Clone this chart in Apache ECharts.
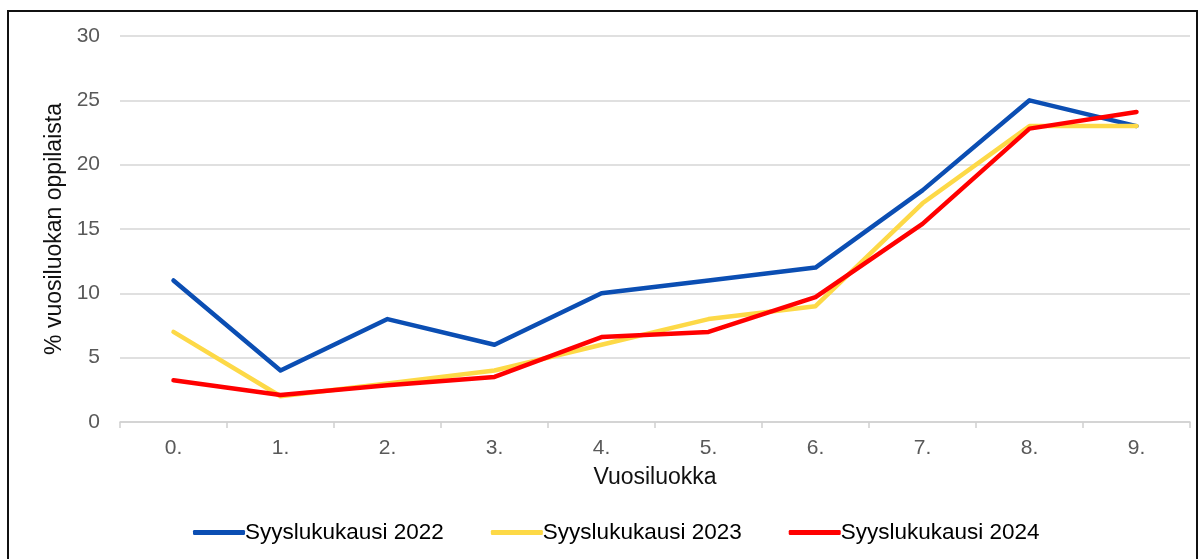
<!DOCTYPE html>
<html>
<head>
<meta charset="utf-8">
<script src="https://cdn.jsdelivr.net/npm/echarts@6/dist/echarts.min.js"></script>
<style>
html,body{margin:0;padding:0;background:#fff;}
#chart{width:1202px;height:559px;position:absolute;left:0;top:0;}
#frame{position:absolute;left:7px;top:10px;width:1191px;height:560px;border:2px solid #111;box-sizing:border-box;pointer-events:none;}
</style>
</head>
<body>
<div id="chart"></div>
<div id="frame"></div>
<script>
const categories = ['0.', '1.', '2.', '3.', '4.', '5.', '6.', '7.', '8.', '9.'];
const s2022 = [11, 4, 8, 6, 10, 11, 12, 18, 25, 23];
const s2023 = [7, 2, 3, 4, 6, 8, 9, 17, 23, 23];
const s2024 = [3.25, 2.1, 2.85, 3.5, 6.6, 7.0, 9.7, 15.4, 22.8, 24.1];
const seriesNames = ['Syyslukukausi 2022', 'Syyslukukausi 2023', 'Syyslukukausi 2024'];
const colors = ['#0B4EB3', '#FDD947', '#FF0000'];

const chart = echarts.init(document.getElementById('chart'), null, {renderer: 'canvas'});
const font = 'Liberation Sans, Arial, sans-serif';
const mk = (name, data, color) => ({
  name, type: 'line', data, symbol: 'none', smooth: false,
  lineStyle: {color, width: 4.5, cap: 'round', join: 'round'},
  itemStyle: {color}
});
chart.setOption({
  animation: false,
  backgroundColor: '#fff',
  grid: {left: 120, right: 12, top: 36, bottom: 137},
  legend: {
    left: 188, top: 516,
    itemWidth: 52, itemHeight: 5, itemGap: 47,
    icon: 'roundRect',
    textStyle: {fontFamily: font, fontSize: 22.5, color: '#000', padding: [0, 0, 0, -5]},
    data: seriesNames
  },
  xAxis: {
    type: 'category', data: categories, boundaryGap: true,
    name: 'Vuosiluokka', nameLocation: 'middle', nameGap: 44,
    nameTextStyle: {fontFamily: font, fontSize: 23, color: '#111'},
    axisLine: {lineStyle: {color: '#d0d0d0', width: 1.5}},
    axisTick: {show: true, alignWithLabel: false, length: 6, lineStyle: {color: '#d0d0d0', width: 1.5}},
    axisLabel: {fontFamily: font, fontSize: 21, color: '#595959', margin: 16}
  },
  yAxis: {
    type: 'value', min: 0, max: 30, interval: 5,
    name: '% vuosiluokan oppilaista', nameLocation: 'middle', nameGap: 53, nameRotate: 90,
    nameTextStyle: {fontFamily: font, fontSize: 23, color: '#111'},
    axisLine: {show: false}, axisTick: {show: false},
    splitLine: {lineStyle: {color: '#d6d6d6', width: 1.5}},
    axisLabel: {fontFamily: font, fontSize: 21, color: '#595959', margin: 20}
  },
  series: [mk(seriesNames[0], s2022, colors[0]), mk(seriesNames[1], s2023, colors[1]), mk(seriesNames[2], s2024, colors[2])]
});
</script>
</body>
</html>
